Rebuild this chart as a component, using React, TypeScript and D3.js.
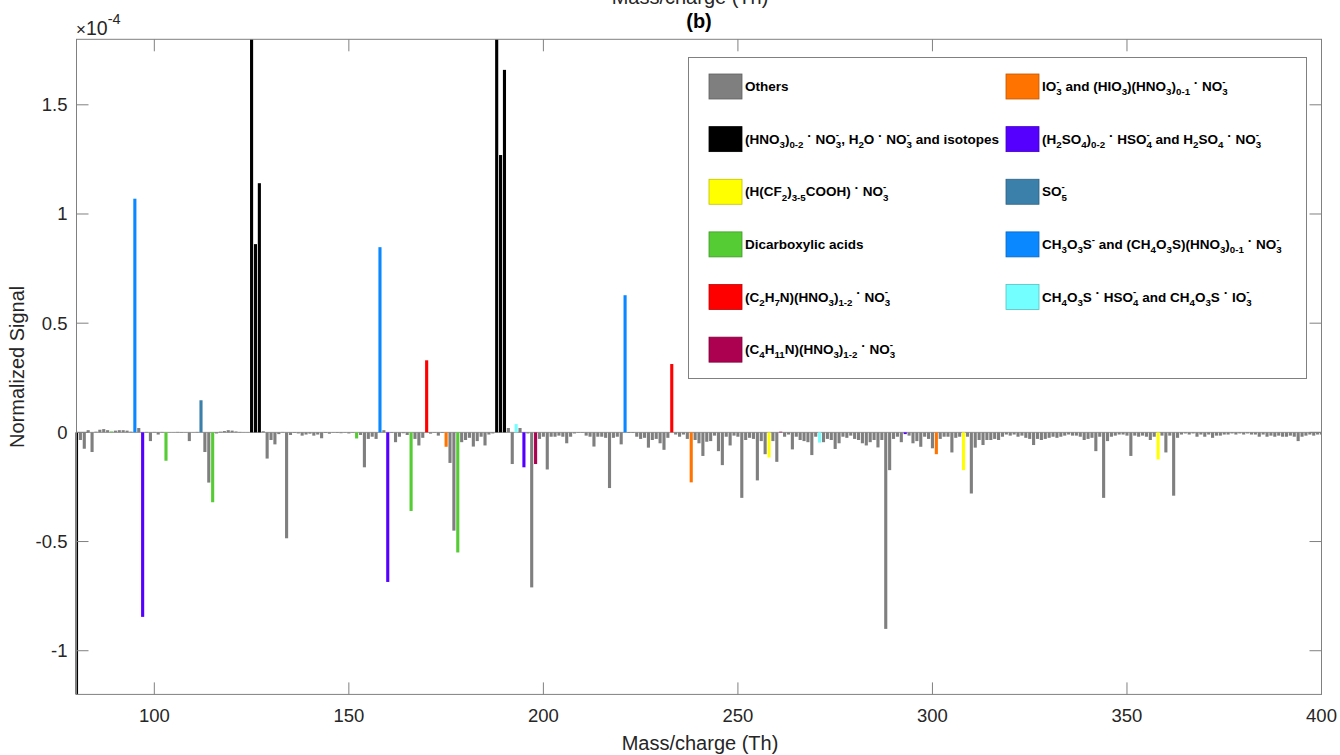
import React from 'react';
import * as d3 from 'd3';

// normalized signal (x1e-4) for every integer m/z, starting at 80
const MZ_START = 80;
const signal = [
  // 80
  -1.3, -0.035, -0.075, 0.01, -0.09, 0.003, 0.012, 0.015, 0.01, 0.004,
  // 90
  0.008, 0.01, 0.01, 0.008, 0.003, 1.07, 0.02, -0.845, 0.002, -0.04,
  // 100
  0.002, -0.01, 0.002, -0.13, 0.001, 0.001, 0.002, -0.002, 0.001, -0.04,
  // 110
  0.001, 0.002, 0.147, -0.09, -0.23, -0.32, -0.005, 0.003, 0.006, 0.01,
  // 120
  0.008, 0.004, 0.002, 0.001, 0.001, 2.5, 0.862, 1.141, 0.005, -0.12,
  // 130
  -0.035, -0.055, -0.008, 0.002, -0.485, -0.012, -0.003, -0.005, -0.015, -0.01,
  // 140
  -0.006, -0.015, -0.01, -0.027, -0.003, -0.006, -0.002, -0.003, -0.004, -0.002,
  // 150
  -0.005, -0.002, -0.028, -0.012, -0.16, -0.03, -0.02, -0.03, 0.848, 0.01,
  // 160
  -0.685, -0.003, -0.045, -0.02, -0.004, -0.012, -0.36, -0.03, -0.06, -0.025,
  // 170
  0.33, -0.006, -0.002, -0.015, -0.003, -0.066, -0.14, -0.45, -0.55, -0.045,
  // 180
  -0.035, -0.025, -0.065, -0.04, -0.02, -0.06, -0.01, -0.005, 2.5, 1.27,
  // 190
  1.66, 0.02, -0.145, 0.038, 0.02, -0.16, -0.005, -0.71, -0.145, -0.03,
  // 200
  -0.02, -0.17, -0.02, -0.02, -0.015, -0.02, -0.05, -0.02, -0.005, -0.002,
  // 210
  -0.002, -0.015, -0.02, -0.065, -0.02, -0.02, -0.025, -0.255, -0.025, -0.02,
  // 220
  -0.055, 0.628, -0.003, -0.003, -0.02, -0.03, -0.025, -0.07, -0.035, -0.03,
  // 230
  -0.05, -0.08, -0.025, 0.313, -0.01, -0.02, -0.01, -0.03, -0.229, -0.035,
  // 240
  -0.05, -0.108, -0.043, -0.04, -0.015, -0.086, -0.15, -0.02, -0.06, -0.015,
  // 250
  -0.02, -0.3, -0.035, -0.025, -0.03, -0.22, -0.04, -0.1, -0.115, -0.04,
  // 260
  -0.135, 0.003, -0.02, -0.01, -0.078, -0.02, -0.035, -0.04, -0.045, -0.104,
  // 270
  -0.02, -0.047, -0.045, -0.03, -0.035, -0.076, -0.05, -0.02, -0.025, -0.015,
  // 280
  -0.03, -0.035, -0.05, -0.06, -0.045, -0.035, -0.069, -0.035, -0.9, -0.173,
  // 290
  -0.03, -0.02, -0.045, -0.008, -0.015, -0.05, -0.04, -0.066, -0.02, -0.03,
  // 300
  -0.073, -0.1, -0.03, -0.02, -0.02, -0.092, -0.025, -0.02, -0.173, -0.02,
  // 310
  -0.28, -0.07, -0.035, -0.058, -0.035, -0.035, -0.03, -0.035, -0.02, -0.01,
  // 320
  -0.015, -0.01, -0.02, -0.015, -0.025, -0.03, -0.058, -0.03, -0.035, -0.03,
  // 330
  -0.025, -0.02, -0.025, -0.02, -0.015, -0.01, -0.015, -0.015, -0.02, -0.035,
  // 340
  -0.03, -0.025, -0.086, -0.02, -0.3, -0.04, -0.02, -0.015, -0.01, -0.01,
  // 350
  -0.015, -0.108, -0.015, -0.02, -0.015, -0.02, -0.035, -0.02, -0.124, -0.015,
  // 360
  -0.092, -0.015, -0.29, -0.025, -0.01, -0.005, -0.01, -0.005, -0.02, -0.01,
  // 370
  -0.02, -0.01, -0.025, -0.015, -0.015, -0.01, -0.01, -0.005, -0.01, -0.005,
  // 380
  -0.01, -0.005, -0.01, -0.01, -0.02, -0.01, -0.02, -0.015, -0.02, -0.015,
  // 390
  -0.02, -0.02, -0.015, -0.02, -0.04, -0.02, -0.015, -0.01, -0.015, -0.01,
  // 400
  -0.01,
];

// m/z assigned to each ion family (everything else is "Others")
const nitrateMz = [80, 125, 126, 127, 188, 189, 190];
const pfcaMz = [258, 308, 358];
const dicarboxylicMz = [89, 103, 115, 152, 166, 178];
const dmaMz = [170, 233];
const c4AmineMz = [198, 261];
const iodateMz = [175, 238, 301];
const sulfuricMz = [97, 160, 195, 293];
const so5Mz = [112];
const msaMz = [95, 158, 221];
const msaClusterMz = [193, 271];

const legendLeft = [
  'Others',
  '(HNO_3)_{0-2} · NO_3^-, H_2O · NO_3^- and isotopes',
  '(H(CF_2)_{3-5}COOH) · NO_3^-',
  'Dicarboxylic acids',
  '(C_2H_7N)(HNO_3)_{1-2} · NO_3^-',
  '(C_4H_{11}N)(HNO_3)_{1-2} · NO_3^-',
];
const legendRight = [
  'IO_3^- and (HIO_3)(HNO_3)_{0-1} · NO_3^-',
  '(H_2SO_4)_{0-2} · HSO_4^- and H_2SO_4 · NO_3^-',
  'SO_5^-',
  'CH_3O_3S^- and (CH_4O_3S)(HNO_3)_{0-1} · NO_3^-',
  'CH_4O_3S · HSO_4^- and CH_4O_3S · IO_3^-',
];

const xTicks = [100, 150, 200, 250, 300, 350, 400];
const yTicks = [-1, -0.5, 0, 0.5, 1, 1.5];

const othersColor = '#7f7f7f';
const leftColors = [othersColor, '#000000', '#ffff00', '#55cc33', '#ff0000', '#ac0050'];
const rightColors = ['#ff7300', '#5500ff', '#3b80aa', '#0a88ff', '#73ffff'];
const leftGroups = [null, nitrateMz, pfcaMz, dicarboxylicMz, dmaMz, c4AmineMz];
const rightGroups = [iodateMz, sulfuricMz, so5Mz, msaMz, msaClusterMz];

const FONT = '"Liberation Sans", Arial, Helvetica, sans-serif';
const AX = '#808080';
const TXT = '#262626';

const colorOf = new Map<number, string>();
leftGroups.forEach((g, i) => g && g.forEach((m) => colorOf.set(m, leftColors[i])));
rightGroups.forEach((g, i) => g.forEach((m) => colorOf.set(m, rightColors[i])));

type Seg = { t: string; k: 'n' | 'sub' | 'sup' | 'dot' };
function parseTex(s: string): Seg[] {
  const segs: Seg[] = [];
  let buf = '';
  let i = 0;
  const flush = () => {
    if (buf) segs.push({ t: buf, k: 'n' });
    buf = '';
  };
  while (i < s.length) {
    const c = s[i];
    if (c === '_' || c === '^') {
      flush();
      let g = '';
      if (s[i + 1] === '{') {
        const j = s.indexOf('}', i + 2);
        g = s.slice(i + 2, j);
        i = j + 1;
      } else {
        g = s[i + 1];
        i += 2;
      }
      segs.push({ t: g, k: c === '_' ? 'sub' : 'sup' });
    } else if (c === '·') {
      flush();
      segs.push({ t: '·', k: 'dot' });
      i++;
    } else {
      buf += c;
      i++;
    }
  }
  flush();
  return segs;
}
const charW = (t: string) =>
  t.split('').reduce((a, c) => a + (/[0-9]/.test(c) ? 0.556 : c === '-' ? 0.333 : 0.6), 0);

const TexText = ({ x, y, s, size }: { x: number; y: number; s: string; size: number }) => {
  const segs = parseTex(s);
  const sc = 0.72;
  const off = { n: 0, sub: size * 0.32, sup: -size * 0.45, dot: -size * 0.3 };
  let cur = 0;
  let pending = 0;
  return (
    <text x={x} y={y} fontFamily={FONT} fontWeight="bold" fontSize={size} fill="#000" style={{ whiteSpace: 'pre' }}>
      {segs.map((sg, i) => {
        const dy = off[sg.k] - cur;
        cur = off[sg.k];
        let dx = pending;
        pending = 0;
        const prev = segs[i - 1];
        if (sg.k === 'sup' && prev && prev.k === 'sub') {
          const w = charW(prev.t) * size * sc;
          const ws = charW(sg.t) * size * sc;
          dx -= w;
          if (w > ws) pending = w - ws;
        }
        const fs = sg.k === 'sub' || sg.k === 'sup' ? size * sc : size;
        return (
          <tspan key={i} dx={dx || undefined} dy={dy || undefined} fontSize={fs}>
            {sg.t}
          </tspan>
        );
      })}
    </text>
  );
};

const App = () => {
  const W = 1340;
  const H = 755;
  const x = d3.scaleLinear().domain([80, 400]).range([76.5, 1321.5]);
  const y = d3.scaleLinear().domain([-1.2, 1.8]).range([694.4, 39.3]);
  const [x0, x1] = x.range();
  const [yb, yt] = y.range();
  const y0 = y(0);
  const bw = 0.8;
  const tick = 12;

  const bars = signal.map((v, i) => {
    const mz = MZ_START + i;
    return { mz, v, color: colorOf.get(mz) ?? othersColor };
  });

  const rowY = (r: number) => 86.5 + r * 52.63;

  return (
    <svg width={W} height={H} style={{ position: 'absolute', left: 0, top: 0, background: '#fff' }}>
      <defs>
        <clipPath id="plot">
          <rect x={x0 - 1} y={yt} width={x1 - x0 + 1} height={yb - yt} />
        </clipPath>
      </defs>

      {/* remnant of the upper panel's x label, cut by the figure edge as in the source */}
      <text x={690} y={4} textAnchor="middle" fontFamily={FONT} fontSize={20} fill={TXT}>
        Mass/charge (Th)
      </text>
      <text x={699} y={28} textAnchor="middle" fontFamily={FONT} fontWeight="bold" fontSize={20} fill="#000">
        (b)
      </text>

      <line x1={x0} x2={x1} y1={y0} y2={y0} stroke="#9a9a9a" strokeWidth={1} />
      <g clipPath="url(#plot)">
        {bars.map((d) => (
          <rect
            key={d.mz}
            x={x(d.mz - bw / 2)}
            width={x(d.mz + bw / 2) - x(d.mz - bw / 2)}
            y={Math.min(y(d.v), y0)}
            height={Math.abs(y(d.v) - y0)}
            fill={d.color}
          />
        ))}
      </g>

      {/* axes box */}
      <rect x={x0} y={yt} width={x1 - x0} height={yb - yt} fill="none" stroke={AX} strokeWidth={1} />
      {xTicks.map((t) => (
        <g key={t}>
          <line x1={x(t)} x2={x(t)} y1={yb} y2={yb - tick} stroke={AX} />
          <line x1={x(t)} x2={x(t)} y1={yt} y2={yt + tick} stroke={AX} />
          <text x={x(t)} y={722} textAnchor="middle" fontFamily={FONT} fontSize={18.5} fill={TXT}>
            {t}
          </text>
        </g>
      ))}
      {yTicks.map((t) => (
        <g key={t}>
          <line x1={x0} x2={x0 + tick} y1={y(t)} y2={y(t)} stroke={AX} />
          <line x1={x1} x2={x1 - tick} y1={y(t)} y2={y(t)} stroke={AX} />
          <text x={67.5} y={y(t) + 6.5} textAnchor="end" fontFamily={FONT} fontSize={18.5} fill={TXT}>
            {t}
          </text>
        </g>
      ))}
      <text x={76} y={34.5} fontFamily={FONT} fontSize={19.5} fill={TXT}>
        <tspan fontSize={17}>×</tspan>
        10
        <tspan dy={-11} fontSize={14.5}>
          -4
        </tspan>
      </text>

      <text x={700} y={750} textAnchor="middle" fontFamily={FONT} fontSize={20} fill={TXT}>
        Mass/charge (Th)
      </text>
      <text
        transform={`translate(24,${(yt + yb) / 2}) rotate(-90)`}
        textAnchor="middle"
        fontFamily={FONT}
        fontSize={20}
        fill={TXT}
      >
        Normalized Signal
      </text>

      {/* legend */}
      <rect x={688.5} y={57.5} width={618} height={321} fill="#fff" stroke={AX} strokeWidth={1} />
      {legendLeft.map((s, i) => (
        <g key={'l' + i}>
          <rect
            x={709}
            y={rowY(i) - 12.5}
            width={33}
            height={25}
            fill={leftColors[i]}
            stroke={d3.color(leftColors[i])!.darker(0.8).formatHex()}
            strokeWidth={0.8}
          />
          <TexText x={745} y={rowY(i) + 4.5} s={s} size={13.5} />
        </g>
      ))}
      {legendRight.map((s, i) => (
        <g key={'r' + i}>
          <rect
            x={1006}
            y={rowY(i) - 12.5}
            width={33}
            height={25}
            fill={rightColors[i]}
            stroke={d3.color(rightColors[i])!.darker(0.8).formatHex()}
            strokeWidth={0.8}
          />
          <TexText x={1042} y={rowY(i) + 4.5} s={s} size={13.5} />
        </g>
      ))}
    </svg>
  );
};

export default App;
